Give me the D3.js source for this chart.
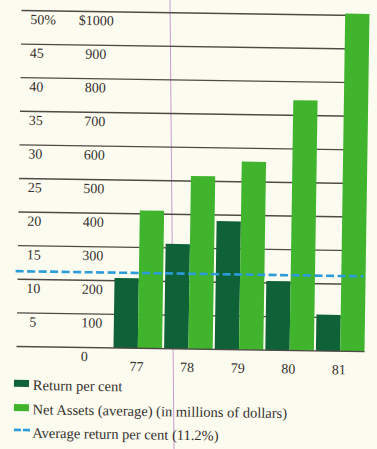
<!DOCTYPE html>
<html><head><meta charset="utf-8">
<script src="https://cdn.jsdelivr.net/npm/d3@7"></script>
<style>
html,body{margin:0;padding:0;background:#fcfbf0;}
svg{display:block;}
text{font-family:"Liberation Serif","DejaVu Serif",serif;fill:#35312d;}
</style></head><body>
<script>
// Fund performance, 1977–1981
const years = ["77", "78", "79", "80", "81"];
const returnPct = [10.4, 15.6, 19.1, 10.3, 5.4];          // per cent
const netAssets = [410, 515, 560, 745, 1005];             // millions of dollars
const averageReturn = 11.2;                               // per cent
const pctTicks = [5, 10, 15, 20, 25, 30, 35, 40, 45, 50];
const dollarTicks = [0, 100, 200, 300, 400, 500, 600, 700, 800, 900, 1000];
const legendLabels = [
  "Return per cent",
  "Net Assets (average) (in millions of dollars)",
  "Average return per cent (11.2%)"
];

const W = 377, H = 449;
const C = { dark: "#0f6238", light: "#3fb42c", dash: "#2b9bd9", grid: "#4f4a45", bg: "#fcfbf0" };

const svg = d3.select("body").append("svg").attr("width", W).attr("height", H);
svg.append("rect").attr("width", W).attr("height", H).attr("fill", C.bg);

// faint fold line across the page
svg.append("line").attr("x1", 170).attr("y1", 0).attr("x2", 174).attr("y2", H)
  .attr("stroke", "#c79bcf").attr("stroke-width", 1);

const g = svg.append("g").attr("transform", "rotate(0.85,190,180)");

const yPct = d3.scaleLinear().domain([0, 50]).range([349, 13]);
const yUsd = d3.scaleLinear().domain([0, 1000]).range([349, 13]);
const x = d3.scaleBand().domain(years).range([116, 367]).paddingInner(0.04).paddingOuter(0);
const xs = d3.scaleBand().domain(["ret", "assets"]).range([0, x.bandwidth()]);

// horizontal rules (behind the bars)
const gridRight = x("81") + xs("assets") + xs.bandwidth() / 2;
g.append("g").selectAll("line").data(pctTicks).join("line")
  .attr("x1", 19).attr("x2", gridRight)
  .attr("y1", d => yPct(d)).attr("y2", d => yPct(d))
  .attr("stroke", C.grid).attr("stroke-width", 1.4);

// per-cent labels
const leftCol = g.append("g").attr("font-size", 14);
leftCol.selectAll("text").data(pctTicks).join("text")
  .attr("x", 35).attr("y", d => yPct(d) + 13.5)
  .attr("text-anchor", "middle").text(d => d);
const topLbl = leftCol.selectAll("text").filter(d => d === 50);
const topW = topLbl.node().getComputedTextLength();
leftCol.append("text").attr("x", 35 + topW / 2).attr("y", yPct(50) + 13.5).text("%");

// dollar labels
const rightCol = g.append("g").attr("font-size", 14);
rightCol.selectAll("text").data(dollarTicks).join("text")
  .attr("x", 83.5).attr("y", d => yUsd(d) + 13.5).text(d => d);
rightCol.append("text").attr("x", 83.5).attr("y", yUsd(1000) + 13.5)
  .attr("text-anchor", "end").text("$");

// bars
const groups = g.append("g").selectAll("g").data(years).join("g")
  .attr("transform", d => `translate(${x(d)},0)`);
groups.append("rect")
  .attr("x", xs("ret")).attr("width", xs.bandwidth())
  .attr("y", (d, i) => yPct(returnPct[i]))
  .attr("height", (d, i) => yPct(0) - yPct(returnPct[i]))
  .attr("fill", C.dark);
groups.append("rect")
  .attr("x", xs("assets")).attr("width", xs.bandwidth())
  .attr("y", (d, i) => yUsd(netAssets[i]))
  .attr("height", (d, i) => yUsd(0) - yUsd(netAssets[i]))
  .attr("fill", C.light);

// base line
g.append("line").attr("x1", 19).attr("x2", x("81") + x.bandwidth())
  .attr("y1", yPct(0)).attr("y2", yPct(0))
  .attr("stroke", C.grid).attr("stroke-width", 1.4);

// average return
g.append("line").attr("x1", 17).attr("x2", x("81") + x.bandwidth() - 2)
  .attr("y1", yPct(averageReturn)).attr("y2", yPct(averageReturn))
  .attr("stroke", C.dash).attr("stroke-width", 2.6).attr("stroke-dasharray", "8,3.5");

// year labels
g.append("g").selectAll("text").data(years).join("text")
  .attr("x", d => x(d) + x.bandwidth() / 2 - 1).attr("y", yPct(0) + 23)
  .attr("text-anchor", "middle").attr("font-size", 14).text(d => d);

// legend
const lg = g.append("g").attr("font-size", 14.5);
const rows = [392.3, 416.6, 440];
lg.append("rect").attr("x", 17).attr("y", rows[0] - 10).attr("width", 15).attr("height", 7).attr("fill", C.dark);
lg.append("rect").attr("x", 17.3).attr("y", rows[1] - 10).attr("width", 15).attr("height", 7).attr("fill", C.light);
lg.append("line").attr("x1", 17.7).attr("x2", 34).attr("y1", rows[2] - 7.5).attr("y2", rows[2] - 7.5)
  .attr("stroke", C.dash).attr("stroke-width", 2.6).attr("stroke-dasharray", "7,2");
lg.selectAll("text.lab").data(legendLabels).join("text").attr("class", "lab")
  .attr("x", 36).attr("y", (d, i) => rows[i]).text(d => d);
</script>
</body></html>
